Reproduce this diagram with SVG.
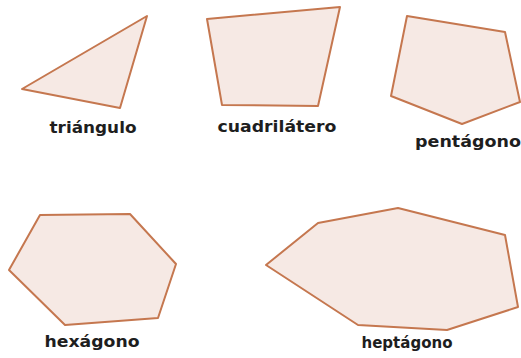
<svg xmlns="http://www.w3.org/2000/svg" width="521" height="358" viewBox="0 0 521 358">
<style>
.shape{fill:#f6e9e4;stroke:#c5774f;stroke-width:2;stroke-linejoin:round}
.lbl{font-family:"DejaVu Sans",sans-serif;font-weight:bold;font-size:16px;fill:#1e1e1e;text-anchor:middle}
</style>
<rect width="521" height="358" fill="#ffffff"/>
<g id="triangulo">
<polygon class="shape" points="22,89 147,16 120,108"/>
<text class="lbl" x="93" y="133" textLength="87" lengthAdjust="spacingAndGlyphs">triángulo</text>
</g>
<g id="cuadrilatero">
<polygon class="shape" points="207,19 340,7 318,106 222,105"/>
<text class="lbl" x="277" y="132" textLength="119" lengthAdjust="spacingAndGlyphs">cuadrilátero</text>
</g>
<g id="pentagono">
<polygon class="shape" points="407,16 505,32 520,102 462,124 391,96"/>
<text class="lbl" x="468" y="147" textLength="106" lengthAdjust="spacingAndGlyphs">pentágono</text>
</g>
<g id="hexagono">
<polygon class="shape" points="40,215 130,214 176,264 158,318 65,325 9,270"/>
<text class="lbl" x="92" y="347" textLength="95" lengthAdjust="spacingAndGlyphs">hexágono</text>
</g>
<g id="heptagono">
<polygon class="shape" points="266,265 318,223 398,208 505,235 518,307 447,330 358,325"/>
<text class="lbl" x="407" y="348" textLength="91" lengthAdjust="spacingAndGlyphs">heptágono</text>
</g>
</svg>
